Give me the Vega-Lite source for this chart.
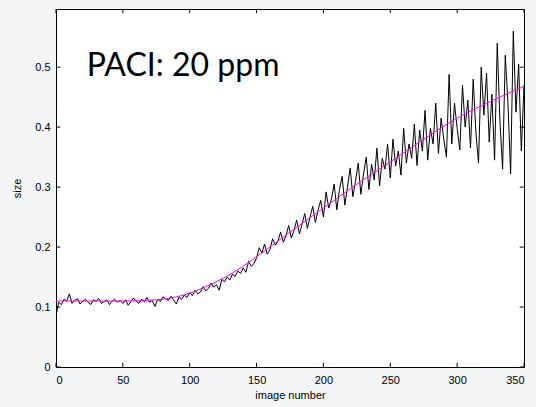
{
  "$schema": "https://vega.github.io/schema/vega-lite/v6.json",
  "autosize": "none",
  "width": 468,
  "height": 358,
  "padding": {"left": 56, "top": 9, "right": 12, "bottom": 40},
  "background": "#f3f5f7",
  "config": {
    "view": {"fill": "white", "stroke": "black", "strokeWidth": 1},
    "axis": {
      "labelFont": "Liberation Sans",
      "titleFont": "Liberation Sans",
      "labelFontSize": 11,
      "titleFontSize": 11,
      "labelFontWeight": "normal",
      "titleFontWeight": "normal",
      "labelColor": "black",
      "titleColor": "black",
      "domain": false,
      "ticks": false,
      "grid": false
    }
  },
  "datasets": {
    "raw": [
      {"img":0,"size":0.085},{"img":2,"size":0.108},{"img":4,"size":0.104},{"img":6,"size":0.113},{"img":8,"size":0.110},{"img":10,"size":0.122},{"img":12,"size":0.106},{"img":14,"size":0.111},{"img":16,"size":0.114},{"img":18,"size":0.105},
      {"img":20,"size":0.110},{"img":22,"size":0.113},{"img":24,"size":0.108},{"img":26,"size":0.104},{"img":28,"size":0.112},{"img":30,"size":0.110},{"img":32,"size":0.114},{"img":34,"size":0.106},{"img":36,"size":0.109},{"img":38,"size":0.112},
      {"img":40,"size":0.104},{"img":42,"size":0.110},{"img":44,"size":0.113},{"img":46,"size":0.108},{"img":48,"size":0.111},{"img":50,"size":0.106},{"img":52,"size":0.112},{"img":54,"size":0.103},{"img":56,"size":0.109},{"img":58,"size":0.115},
      {"img":60,"size":0.110},{"img":62,"size":0.106},{"img":64,"size":0.113},{"img":66,"size":0.109},{"img":68,"size":0.116},{"img":70,"size":0.108},{"img":72,"size":0.111},{"img":74,"size":0.101},{"img":76,"size":0.113},{"img":78,"size":0.109},
      {"img":80,"size":0.117},{"img":82,"size":0.114},{"img":84,"size":0.111},{"img":86,"size":0.118},{"img":88,"size":0.112},{"img":90,"size":0.105},{"img":92,"size":0.117},{"img":94,"size":0.113},{"img":96,"size":0.120},{"img":98,"size":0.116},
      {"img":100,"size":0.124},{"img":102,"size":0.119},{"img":104,"size":0.128},{"img":106,"size":0.122},{"img":108,"size":0.125},{"img":110,"size":0.134},{"img":112,"size":0.127},{"img":114,"size":0.131},{"img":116,"size":0.140},{"img":118,"size":0.133},
      {"img":120,"size":0.137},{"img":122,"size":0.128},{"img":124,"size":0.146},{"img":126,"size":0.142},{"img":128,"size":0.150},{"img":130,"size":0.145},{"img":132,"size":0.155},{"img":134,"size":0.151},{"img":136,"size":0.160},{"img":138,"size":0.156},
      {"img":140,"size":0.165},{"img":142,"size":0.158},{"img":144,"size":0.176},{"img":146,"size":0.168},{"img":148,"size":0.172},{"img":150,"size":0.182},{"img":152,"size":0.199},{"img":154,"size":0.190},{"img":156,"size":0.205},{"img":158,"size":0.188},
      {"img":160,"size":0.196},{"img":162,"size":0.214},{"img":164,"size":0.203},{"img":166,"size":0.210},{"img":168,"size":0.225},{"img":170,"size":0.208},{"img":172,"size":0.219},{"img":174,"size":0.236},{"img":176,"size":0.215},{"img":178,"size":0.228},
      {"img":180,"size":0.245},{"img":182,"size":0.222},{"img":184,"size":0.238},{"img":186,"size":0.256},{"img":188,"size":0.231},{"img":190,"size":0.250},{"img":192,"size":0.268},{"img":194,"size":0.241},{"img":196,"size":0.262},{"img":198,"size":0.278},
      {"img":200,"size":0.250},{"img":202,"size":0.292},{"img":204,"size":0.265},{"img":206,"size":0.280},{"img":208,"size":0.305},{"img":210,"size":0.262},{"img":212,"size":0.296},{"img":214,"size":0.318},{"img":216,"size":0.270},{"img":218,"size":0.300},
      {"img":220,"size":0.332},{"img":222,"size":0.284},{"img":224,"size":0.310},{"img":226,"size":0.340},{"img":228,"size":0.288},{"img":230,"size":0.322},{"img":232,"size":0.350},{"img":234,"size":0.296},{"img":236,"size":0.338},{"img":238,"size":0.312},
      {"img":240,"size":0.365},{"img":242,"size":0.302},{"img":244,"size":0.348},{"img":246,"size":0.330},{"img":248,"size":0.372},{"img":250,"size":0.315},{"img":252,"size":0.380},{"img":254,"size":0.335},{"img":256,"size":0.360},{"img":258,"size":0.320},
      {"img":260,"size":0.398},{"img":262,"size":0.340},{"img":264,"size":0.372},{"img":266,"size":0.348},{"img":268,"size":0.405},{"img":270,"size":0.336},{"img":272,"size":0.395},{"img":274,"size":0.360},{"img":276,"size":0.428},{"img":278,"size":0.345},
      {"img":280,"size":0.398},{"img":282,"size":0.372},{"img":284,"size":0.440},{"img":286,"size":0.356},{"img":288,"size":0.415},{"img":290,"size":0.380},{"img":292,"size":0.350},{"img":294,"size":0.488},{"img":296,"size":0.372},{"img":298,"size":0.440},
      {"img":300,"size":0.398},{"img":302,"size":0.362},{"img":304,"size":0.470},{"img":306,"size":0.400},{"img":308,"size":0.445},{"img":310,"size":0.365},{"img":312,"size":0.480},{"img":314,"size":0.392},{"img":316,"size":0.340},{"img":318,"size":0.500},
      {"img":320,"size":0.420},{"img":322,"size":0.490},{"img":324,"size":0.375},{"img":326,"size":0.455},{"img":328,"size":0.345},{"img":330,"size":0.540},{"img":332,"size":0.410},{"img":334,"size":0.330},{"img":336,"size":0.520},{"img":338,"size":0.440},
      {"img":340,"size":0.322},{"img":342,"size":0.560},{"img":344,"size":0.425},{"img":346,"size":0.505},{"img":348,"size":0.360},{"img":350,"size":0.470}
    ],
    "fit": [
      {"img":0,"size":0.110},{"img":50,"size":0.110},{"img":75,"size":0.112},{"img":90,"size":0.117},{"img":100,"size":0.123},{"img":110,"size":0.132},{"img":125,"size":0.148},{"img":140,"size":0.168},{"img":150,"size":0.184},{"img":160,"size":0.200},{"img":175,"size":0.225},{"img":200,"size":0.265},{"img":225,"size":0.305},{"img":250,"size":0.342},{"img":275,"size":0.380},{"img":300,"size":0.415},{"img":325,"size":0.443},{"img":350,"size":0.468}
    ],
    "xticks": [
      {"img":0,"size":0,"size2":0.007},{"img":50,"size":0,"size2":0.007},{"img":100,"size":0,"size2":0.007},{"img":150,"size":0,"size2":0.007},{"img":200,"size":0,"size2":0.007},{"img":250,"size":0,"size2":0.007},{"img":300,"size":0,"size2":0.007},{"img":350,"size":0,"size2":0.007},
      {"img":0,"size":0.597,"size2":0.590},{"img":50,"size":0.597,"size2":0.590},{"img":100,"size":0.597,"size2":0.590},{"img":150,"size":0.597,"size2":0.590},{"img":200,"size":0.597,"size2":0.590},{"img":250,"size":0.597,"size2":0.590},{"img":300,"size":0.597,"size2":0.590},{"img":350,"size":0.597,"size2":0.590}
    ],
    "yticks": [
      {"img":0,"img2":3.2,"size":0},{"img":0,"img2":3.2,"size":0.1},{"img":0,"img2":3.2,"size":0.2},{"img":0,"img2":3.2,"size":0.3},{"img":0,"img2":3.2,"size":0.4},{"img":0,"img2":3.2,"size":0.5},
      {"img":350,"img2":346.8,"size":0},{"img":350,"img2":346.8,"size":0.1},{"img":350,"img2":346.8,"size":0.2},{"img":350,"img2":346.8,"size":0.3},{"img":350,"img2":346.8,"size":0.4},{"img":350,"img2":346.8,"size":0.5}
    ],
    "label": [{"img":23,"size":0.486,"text":"PACI: 20 ppm"}]
  },
  "encoding": {
    "x": {"field": "img", "type": "quantitative", "scale": {"domain": [0, 350], "nice": false},
          "axis": {"orient": "bottom", "values": [0,50,100,150,200,250,300,350], "title": "image number", "labelPadding": 7, "titlePadding": 4}},
    "y": {"field": "size", "type": "quantitative", "scale": {"domain": [0, 0.597], "nice": false, "zero": true},
          "axis": {"orient": "left", "values": [0,0.1,0.2,0.3,0.4,0.5], "format": "~g", "title": "size", "labelPadding": 6, "titlePadding": 12}}
  },
  "layer": [
    {
      "data": {"name": "xticks"},
      "mark": {"type": "rule", "color": "black", "strokeWidth": 1},
      "encoding": {"y2": {"field": "size2"}}
    },
    {
      "data": {"name": "yticks"},
      "mark": {"type": "rule", "color": "black", "strokeWidth": 1},
      "encoding": {"x2": {"field": "img2"}}
    },
    {
      "data": {"name": "raw"},
      "mark": {"type": "line", "color": "black", "strokeWidth": 1, "clip": true}
    },
    {
      "data": {"name": "fit"},
      "mark": {"type": "line", "color": "#ff00ff", "strokeWidth": 1, "interpolate": "monotone"}
    },
    {
      "data": {"name": "label"},
      "mark": {"type": "text", "font": "Lato", "fontSize": 32, "align": "left", "baseline": "alphabetic", "color": "black"},
      "encoding": {"text": {"field": "text"}}
    }
  ]
}
